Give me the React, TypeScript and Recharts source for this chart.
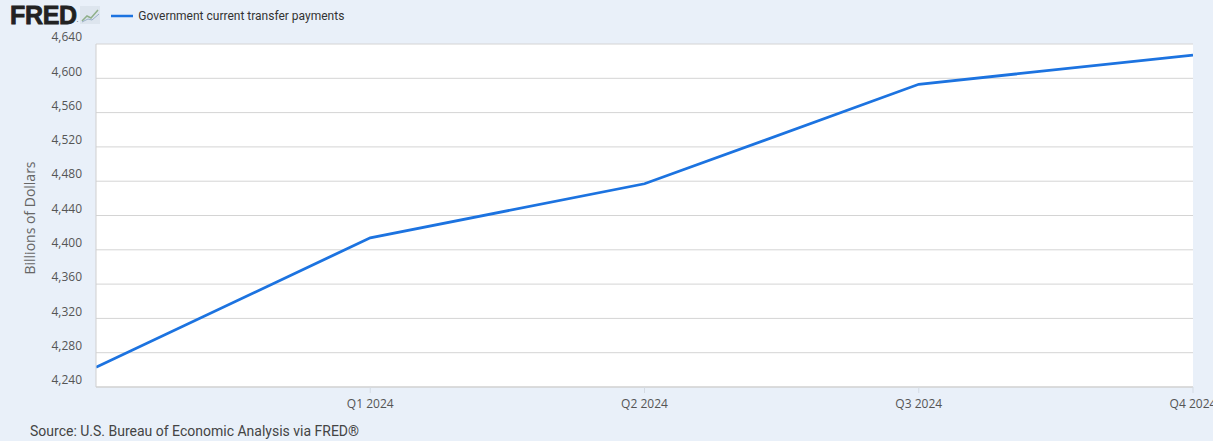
import React from "react";
import { LineChart, Line, XAxis, YAxis, CartesianGrid } from "recharts";

const quarters = ["Q4 2023", "Q1 2024", "Q2 2024", "Q3 2024", "Q4 2024"];
const transferPayments = [4263, 4414, 4477, 4593, 4627];
const yTicks = [4240, 4280, 4320, 4360, 4400, 4440, 4480, 4520, 4560, 4600, 4640];
const xTicks = [1, 2, 3, 4];

const data = quarters.map((q, i) => ({ idx: i, quarter: q, value: transferPayments[i] }));

const tickFont = "'Open Sans', sans-serif";

const YTick = (props: any) => {
  const { x, y, payload } = props;
  return (
    <text x={x} y={y - 6} textAnchor="end" dominantBaseline="middle" fill="#555" fontSize={12} fontFamily={tickFont}>
      {payload.value.toLocaleString("en-US")}
    </text>
  );
};

const XTick = (props: any) => {
  const { x, y, payload } = props;
  return (
    <text x={x} y={y + 10} textAnchor="middle" dominantBaseline="middle" fill="#555" fontSize={12} fontFamily={tickFont}>
      {quarters[payload.value]}
    </text>
  );
};

const App: React.FC = () => {
  return (
    <div
      style={{
        position: "fixed",
        top: 0,
        left: 0,
        width: 1213,
        height: 441,
        background: "#e9f0f9",
        overflow: "hidden",
      }}
    >
      <div style={{ position: "absolute", left: 10, top: 3, display: "flex", alignItems: "center", lineHeight: 1 }}>
        <span
          style={{
            fontFamily: "'Liberation Sans', Arial, sans-serif",
            fontWeight: 700,
            fontSize: 25,
            lineHeight: "24px",
            letterSpacing: -0.3,
            color: "#222",
            WebkitTextStroke: "0.8px #222",
          }}
        >
          FRED
        </span>
        <span style={{ fontSize: 6, color: "#222", alignSelf: "flex-end", marginBottom: 4 }}>.</span>
        <svg width={20} height={18} style={{ marginLeft: 2 }}>
          <rect x={0} y={0} width={20} height={18} fill="#dde5ee" />
          <polyline points="2,15 7,10 11,12 18,4" fill="none" stroke="#8fb08a" strokeWidth={1.5} />
          <polyline points="2,16 8,13 12,14 19,8" fill="none" stroke="#9ab0c8" strokeWidth={1} />
        </svg>
        <svg width={32} height={18} style={{ marginLeft: 3 }}>
          <line x1={8} y1={10} x2={30} y2={10} stroke="#1c73e0" strokeWidth={2.5} />
        </svg>
        <span style={{ fontFamily: "Roboto, sans-serif", fontSize: 12, color: "#333", marginLeft: 3, marginTop: 1 }}>
          Government current transfer payments
        </span>
      </div>
      <div
        style={{
          position: "absolute",
          left: 29,
          top: 218,
          transform: "translate(-50%, -50%) rotate(-90deg)",
          fontFamily: tickFont,
          fontSize: 14,
          color: "#666",
          whiteSpace: "nowrap",
        }}
      >
        Billions of Dollars
      </div>
      <div
        style={{
          position: "absolute",
          left: 30,
          top: 423,
          fontFamily: "Roboto, sans-serif",
          fontSize: 14,
          color: "#444",
          whiteSpace: "nowrap",
        }}
      >
        Source: U.S. Bureau of Economic Analysis via FRED®
      </div>
      <div style={{ position: "absolute", left: 0, top: 0 }}>
        <LineChart width={1213} height={441} data={data} margin={{ top: 44, right: 20, bottom: 24, left: 0 }}>
          <CartesianGrid vertical={false} stroke="#d4d4d4" fill="#ffffff" />
          <XAxis
            dataKey="idx"
            type="number"
            domain={[0, 4]}
            ticks={xTicks}
            height={30}
            axisLine={{ stroke: "#cfcfcf" }}
            tickLine={{ stroke: "#d4dbe3" }}
            tickSize={6}
            tick={<XTick />}
            allowDataOverflow
          />
          <YAxis
            dataKey="value"
            type="number"
            domain={[4240, 4640]}
            ticks={yTicks}
            width={96}
            axisLine={{ stroke: "#cfcfcf" }}
            tickLine={false}
            tickSize={0}
            tickMargin={14}
            tick={<YTick />}
            allowDataOverflow
          />
          <Line
            type="linear"
            dataKey="value"
            stroke="#1c73e0"
            strokeWidth={2.8}
            dot={false}
            activeDot={false}
            isAnimationActive={false}
          />
        </LineChart>
      </div>
    </div>
  );
};

export default App;
